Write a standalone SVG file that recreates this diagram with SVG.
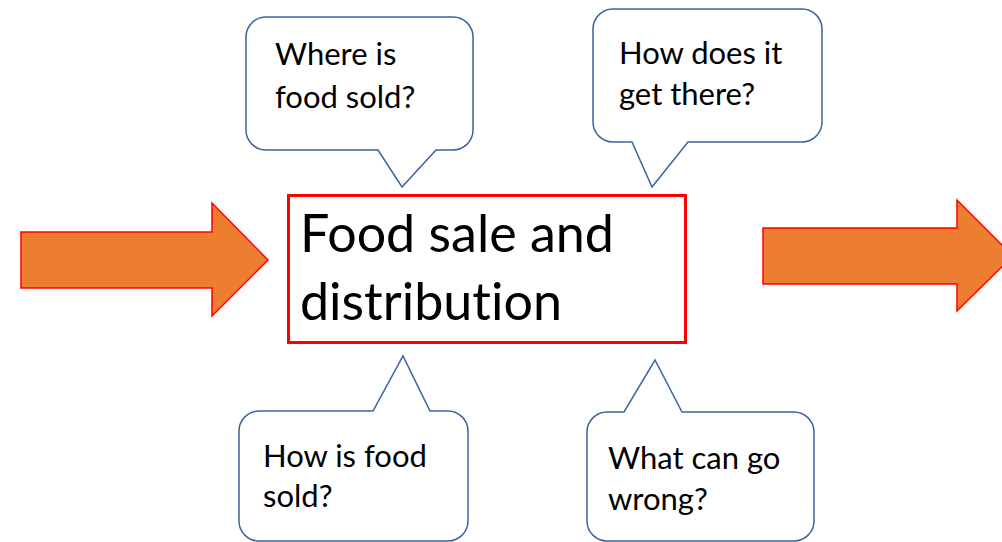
<svg xmlns="http://www.w3.org/2000/svg" width="1002" height="542" viewBox="0 0 1002 542">
<style>
.callout{fill:#ffffff;stroke:#3A64A0;stroke-width:1.5;stroke-linejoin:miter}
.arrow{fill:#ED7D31;stroke:#FF0000;stroke-width:1.5}
.ct{font-family:Lato,"Open Sans",sans-serif;font-size:31px;fill:#000;font-variant-ligatures:none}
.mt{font-family:Lato,"Open Sans",sans-serif;font-size:52px;fill:#000;font-variant-ligatures:none}
</style>
<rect width="1002" height="542" fill="#ffffff"/>
<g id="connectors">
<path id="arrow-in" class="arrow" d="M21,232 H212 V203 L268,260 L212,316 V288 H21 Z"/>
<path id="arrow-out" class="arrow" d="M763,228 H957 V200 L1013,256 L957,311 V284 H763 Z"/>
</g>
<g id="main">
<rect x="288.5" y="195.5" width="397" height="147" fill="#ffffff" stroke="#FF0000" stroke-width="3"/>
<text class="mt" x="300" y="252">Food sale and</text>
<text class="mt" x="300" y="320">distribution</text>
</g>
<g id="callout-where">
<path class="callout" d="M266,17 H453 A20,20 0 0 1 473,37 V130 A20,20 0 0 1 453,150 H436 L402,187 L378,150 H266 A20,20 0 0 1 246,130 V37 A20,20 0 0 1 266,17 Z"/>
<text class="ct" x="275" y="65">Where is</text>
<text class="ct" x="275" y="108">food sold?</text>
</g>
<g id="callout-how-get">
<path class="callout" d="M613,9 H802 A20,20 0 0 1 822,29 V122 A20,20 0 0 1 802,142 H688 L652,187 L632,142 H613 A20,20 0 0 1 593,122 V29 A20,20 0 0 1 613,9 Z"/>
<text class="ct" x="619" y="64">How does it</text>
<text class="ct" x="619" y="105">get there?</text>
</g>
<g id="callout-how-sold">
<path class="callout" d="M259,411 H373 L403,356 L430,411 H448 A20,20 0 0 1 468,431 V521 A20,20 0 0 1 448,541 H259 A20,20 0 0 1 239,521 V431 A20,20 0 0 1 259,411 Z"/>
<text class="ct" x="263" y="467">How is food</text>
<text class="ct" x="263" y="507">sold?</text>
</g>
<g id="callout-wrong">
<path class="callout" d="M607,412 H624 L655,360 L682,412 H794 A20,20 0 0 1 814,432 V521 A20,20 0 0 1 794,541 H607 A20,20 0 0 1 587,521 V432 A20,20 0 0 1 607,412 Z"/>
<text class="ct" x="608" y="469">What can go</text>
<text class="ct" x="608" y="510">wrong?</text>
</g>
</svg>
